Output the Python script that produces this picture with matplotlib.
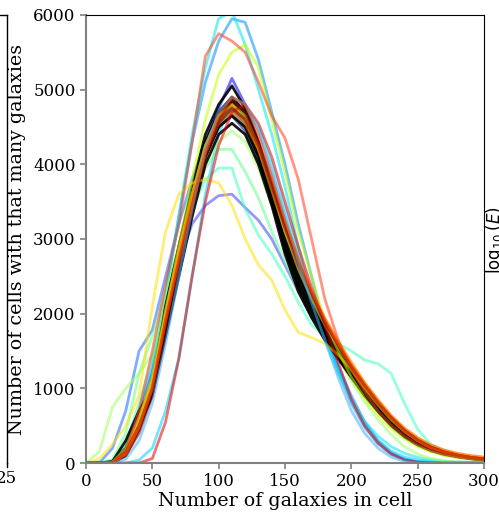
import numpy as np
import matplotlib.pyplot as plt

# number of galaxies per cell (bin centres)
bins = np.arange(0, 301, 10)

# counts-in-cells curves (one per realisation)
black_curves = [
    [0, 0, 10, 200, 600, 1100, 2000, 2800, 3600, 4300, 4700, 4900, 4700, 4250, 3650, 3000, 2500, 2150, 1800, 1500, 1200, 950, 720, 520, 370, 250, 170, 120, 90, 60, 45],
    [0, 0, 20, 300, 700, 1000, 1800, 2600, 3400, 4100, 4500, 4650, 4500, 4100, 3500, 2900, 2400, 2050, 1750, 1480, 1220, 970, 760, 560, 400, 280, 190, 130, 95, 70, 50],
    [0, 0, 5, 100, 450, 950, 1900, 2700, 3500, 4200, 4600, 4800, 4600, 4150, 3550, 2850, 2350, 2000, 1700, 1430, 1150, 900, 690, 500, 350, 240, 170, 120, 85, 60, 45],
    [0, 0, 10, 150, 550, 1050, 2100, 2900, 3700, 4400, 4800, 5050, 4750, 4300, 3700, 3100, 2550, 2150, 1780, 1500, 1220, 960, 740, 540, 380, 260, 180, 125, 90, 65, 45],
    [0, 0, 10, 180, 500, 900, 1700, 2500, 3300, 4000, 4400, 4550, 4400, 4000, 3450, 2800, 2300, 1950, 1650, 1400, 1150, 910, 700, 510, 360, 250, 170, 120, 85, 60, 40],
    [0, 0, 0, 120, 480, 1000, 1950, 2750, 3550, 4250, 4650, 4850, 4650, 4200, 3600, 2950, 2450, 2100, 1750, 1460, 1180, 930, 710, 520, 370, 255, 175, 125, 88, 62, 45],
]

colour_curves = [
    ('#000080', [0, 0, 10, 150, 550, 1000, 1900, 2700, 3500, 4150, 4500, 4650, 4450, 4050, 3500, 2950, 2500, 2150, 1800, 1520, 1280, 1030, 800, 590, 420, 290, 200, 140, 100, 70, 50]),
    ('#0000b0', [0, 0, 0, 100, 450, 950, 1850, 2650, 3450, 4100, 4550, 4750, 4550, 4150, 3600, 3000, 2550, 2200, 1850, 1560, 1300, 1050, 820, 600, 430, 300, 205, 140, 100, 70, 50]),
    ('#0000ff', [0, 0, 20, 200, 650, 1200, 2100, 2900, 3650, 4300, 4750, 5150, 4800, 4300, 3750, 3150, 2600, 2200, 1820, 1500, 1200, 930, 700, 500, 350, 240, 160, 110, 80, 55, 40]),
    ('#4040ff', [0, 0, 20, 200, 600, 1200, 2000, 2700, 3200, 3450, 3580, 3600, 3420, 3250, 3000, 2650, 2300, 1950, 1650, 1400, 1150, 920, 720, 540, 390, 270, 185, 125, 90, 62, 45]),
    ('#1a66ff', [0, 0, 200, 700, 1500, 1780, 2500, 3200, 3800, 4300, 4650, 4850, 4700, 4300, 3800, 3250, 2700, 2200, 1750, 1300, 900, 550, 300, 140, 50, 15, 5, 0, 0, 0, 0]),
    ('#0090ff', [0, 0, 10, 200, 700, 1300, 2300, 3300, 4300, 5100, 5650, 5950, 5900, 5400, 4700, 4000, 3200, 2500, 1800, 1250, 800, 480, 260, 120, 50, 20, 10, 5, 0, 0, 0]),
    ('#00d0ff', [0, 0, 0, 0, 40, 200, 700, 1400, 2500, 3600, 4400, 4900, 4800, 4500, 4000, 3400, 2800, 2200, 1700, 1250, 850, 520, 300, 160, 80, 40, 20, 10, 5, 0, 0]),
    ('#00e8f0', [0, 0, 20, 200, 600, 1200, 2200, 3300, 4400, 5300, 5950, 6050, 5600, 5000, 4400, 3700, 2900, 2200, 1650, 1200, 850, 560, 360, 220, 130, 75, 45, 25, 15, 10, 5]),
    ('#40ffc0', [0, 0, 30, 250, 800, 1400, 2100, 2800, 3400, 3800, 3950, 3950, 3400, 3050, 2800, 2500, 2150, 1850, 1700, 1600, 1500, 1380, 1330, 1200, 800, 450, 250, 150, 90, 60, 40]),
    ('#60ff90', [0, 0, 50, 400, 1200, 1700, 2300, 2900, 3500, 3950, 4200, 4200, 3900, 3550, 3100, 2700, 2300, 1950, 1650, 1400, 1150, 900, 700, 520, 370, 260, 180, 120, 85, 60, 40]),
    ('#a0ff60', [0, 150, 750, 1000, 1200, 1450, 2200, 2900, 3500, 4000, 4300, 4450, 4300, 3950, 3450, 2950, 2450, 2050, 1700, 1400, 1100, 820, 580, 380, 220, 120, 60, 30, 15, 5, 0]),
    ('#20a040', [0, 0, 10, 150, 500, 1000, 1900, 2700, 3450, 4100, 4500, 4700, 4500, 4100, 3500, 2900, 2400, 2050, 1750, 1480, 1220, 980, 770, 570, 410, 290, 200, 140, 100, 70, 50]),
    ('#c0ff00', [0, 0, 10, 150, 550, 1100, 2000, 2900, 3800, 4600, 5200, 5500, 5600, 5300, 4600, 3900, 3100, 2500, 1900, 1500, 1150, 870, 640, 460, 320, 220, 150, 100, 70, 50, 35]),
    ('#e0ff20', [0, 0, 10, 200, 600, 1100, 2000, 2800, 3600, 4250, 4650, 4800, 4650, 4250, 3700, 3100, 2600, 2200, 1850, 1560, 1280, 1020, 800, 600, 430, 300, 210, 150, 105, 75, 55]),
    ('#ffe000', [0, 50, 250, 500, 900, 2100, 3100, 3600, 3750, 3800, 3750, 3450, 3000, 2650, 2450, 2050, 1750, 1680, 1600, 1450, 1250, 1000, 780, 580, 420, 300, 210, 150, 105, 75, 55]),
    ('#ffc000', [0, 0, 10, 150, 600, 1150, 2050, 2850, 3600, 4250, 4650, 4800, 4600, 4200, 3650, 3100, 2650, 2250, 1900, 1600, 1320, 1060, 830, 620, 450, 320, 230, 160, 115, 85, 65]),
    ('#ff9000', [0, 0, 10, 120, 500, 1050, 1950, 2800, 3550, 4200, 4600, 4750, 4600, 4250, 3750, 3200, 2700, 2300, 1950, 1640, 1350, 1080, 850, 640, 470, 340, 240, 170, 125, 95, 75]),
    ('#ff7000', [0, 0, 5, 100, 450, 1000, 1900, 2750, 3500, 4150, 4550, 4700, 4550, 4200, 3700, 3150, 2680, 2280, 1920, 1620, 1330, 1070, 840, 630, 460, 335, 240, 175, 130, 100, 80]),
    ('#ff4020', [0, 0, 10, 150, 700, 1500, 2400, 3200, 4300, 5450, 5750, 5650, 5500, 5100, 4650, 4350, 3800, 3000, 2200, 1650, 1250, 950, 700, 510, 360, 250, 170, 120, 85, 60, 45]),
    ('#e00000', [0, 0, 0, 0, 0, 60, 550, 1400, 2500, 3500, 4250, 4700, 4800, 4550, 4100, 3500, 2900, 2350, 1850, 1350, 850, 500, 270, 120, 40, 10, 0, 0, 0, 0, 0]),
    ('#a00000', [0, 0, 10, 150, 500, 1000, 1900, 2700, 3450, 4150, 4600, 4850, 4700, 4300, 3750, 3200, 2700, 2280, 1900, 1580, 1290, 1030, 800, 600, 430, 300, 210, 145, 105, 75, 55]),
    ('#800000', [0, 0, 0, 100, 400, 900, 1800, 2600, 3400, 4100, 4550, 4750, 4600, 4250, 3700, 3150, 2650, 2250, 1880, 1570, 1290, 1040, 810, 610, 440, 310, 215, 150, 105, 75, 55]),
    ('#40b0ff', [0, 0, 0, 50, 300, 800, 1600, 2500, 3400, 4200, 4700, 4900, 4800, 4450, 3900, 3300, 2700, 2150, 1650, 1150, 700, 400, 200, 80, 20, 0, 0, 0, 0, 0, 0]),
    ('#ff5000', [0, 0, 10, 120, 480, 1000, 1900, 2700, 3450, 4150, 4650, 4900, 4800, 4400, 3850, 3250, 2750, 2300, 1920, 1600, 1300, 1040, 810, 600, 430, 300, 205, 145, 105, 75, 55]),
]

plt.rcParams['font.family'] = 'DejaVu Serif'
plt.rcParams['font.size'] = 12

fig = plt.figure(figsize=(4.99, 5.16), dpi=100)
ax = fig.add_axes([0.1723, 0.1027, 0.7977, 0.8683])

half = len(colour_curves) // 2
for col, vals in colour_curves[:half]:
    ax.plot(bins, vals, color=col, alpha=0.55, lw=2)
for vals in black_curves:
    ax.plot(bins, vals, color='black', alpha=0.9, lw=2)
for col, vals in colour_curves[half:]:
    ax.plot(bins, vals, color=col, alpha=0.55, lw=2)

ax.set_xlim(0, 300)
ax.set_ylim(0, 6000)
ax.set_xticks([0, 50, 100, 150, 200, 250, 300])
ax.set_yticks([0, 1000, 2000, 3000, 4000, 5000, 6000])
ax.set_xlabel('Number of galaxies in cell', fontsize=13.7, labelpad=1)
ax.set_ylabel('Number of cells with that many galaxies', fontsize=13.7, labelpad=5)

for side in ['left', 'bottom']:
    ax.spines[side].set_color('#808080')
    ax.spines[side].set_linewidth(1.5)
ax.tick_params(colors='#808080', labelcolor='black', width=1.2, length=4)

# bits of the neighbouring panels that are visible at the edges
fig.add_artist(plt.Line2D([0.014, 0.014], [0.1027, 0.971], color='black', lw=1))
fig.add_artist(plt.Line2D([0.0, 0.014], [0.971, 0.971], color='black', lw=1))
fig.add_artist(plt.Line2D([0.014, 0.014], [0.1027, 0.095], color='black', lw=1))
fig.text(0.012, 0.073, '25', ha='center', va='center', fontsize=12)
fig.text(0.992, 0.535, r'$\log_{10}(E)$', rotation=90, ha='center', va='center', fontsize=12)

fig.savefig('out.png', dpi=100)
